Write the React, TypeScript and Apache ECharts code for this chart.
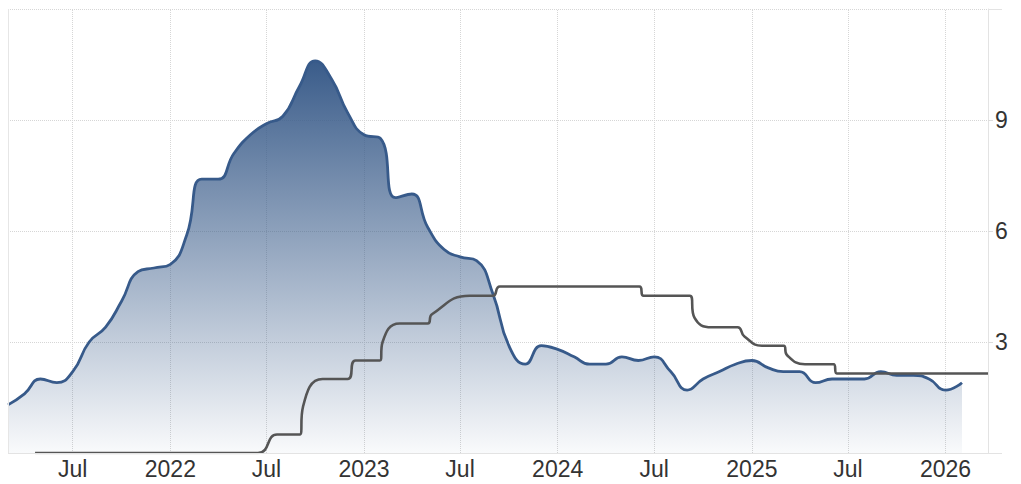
import { useEffect, useRef } from "react";
import * as echarts from "echarts";

// Euro area inflation rate (%), monthly from Mar 2021 to Feb 2026
const inflationStartYear = 2021;
const inflationStartMonth = 3;
const inflationValues = [
  1.3, 1.6, 2.0, 1.9, 2.2, 3.0, 3.4, 4.1, 4.9, 5.0,
  5.1, 5.9, 7.4, 7.4, 8.1, 8.6, 8.9, 9.1, 9.9, 10.6, 10.1, 9.2,
  8.6, 8.5, 6.9, 7.0, 6.1, 5.5, 5.3, 5.2, 4.3, 2.9, 2.4, 2.9,
  2.8, 2.6, 2.4, 2.4, 2.6, 2.5, 2.6, 2.2, 1.7, 2.0, 2.2, 2.4,
  2.5, 2.3, 2.2, 2.2, 1.9, 2.0, 2.0, 2.0, 2.2, 2.1, 2.1, 2.0,
  1.7, 1.9,
];

// Interest rate (%)
const rateDates = [
  "2021-04-21", "2022-06-15", "2022-07-21", "2022-09-02", "2022-09-08",
  "2022-10-15", "2022-12-01", "2022-12-16", "2023-01-31", "2023-02-05",
  "2023-03-09", "2023-05-01", "2023-05-09", "2023-07-19", "2023-09-01",
  "2023-09-14", "2024-06-03", "2024-06-11", "2024-09-06", "2024-09-15",
  "2024-10-17", "2024-12-05", "2024-12-18", "2025-01-20", "2025-03-02",
  "2025-03-08", "2025-04-11", "2025-06-04", "2025-06-10", "2026-03-22",
];
const rateValues = [
  0, 0, 0.5, 0.5, 1.25,
  2.0, 2.0, 2.5, 2.5, 3.0,
  3.5, 3.5, 3.75, 4.25, 4.25,
  4.5, 4.5, 4.25, 4.25, 3.65,
  3.4, 3.4, 3.15, 2.9, 2.9,
  2.65, 2.4, 2.4, 2.15, 2.15,
];

const xMinDate = "2021-03-01";
const xMaxDate = "2026-03-22";
const xTickDates = [
  "2021-07-01", "2022-01-01", "2022-07-01", "2023-01-01", "2023-07-01",
  "2024-01-01", "2024-07-01", "2025-01-01", "2025-07-01", "2026-01-01",
];
const xTickLabels = ["Jul", "2022", "Jul", "2023", "Jul", "2024", "Jul", "2025", "Jul", "2026"];
const yLabelValues = [3, 6, 9];

function toTs(s: string): number {
  const [y, m, d] = s.split("-").map(Number);
  return new Date(y, m - 1, d).getTime();
}

export default function App() {
  const ref = useRef<HTMLDivElement>(null);
  useEffect(() => {
    if (!ref.current) return;
    const chart = echarts.init(ref.current, null, { renderer: "svg" });
    const inflationData = inflationValues.map((v, i) => {
      const d = new Date(inflationStartYear, inflationStartMonth - 1 + i, 1);
      return [d.getTime(), v];
    });
    const rateData = rateDates.map((d, i) => [toTs(d), rateValues[i]]);
    const tickTs = xTickDates.map(toTs);
    const W = 1021;
    const H = 484;
    const left = 8;
    const right = 988;
    const top = 9;
    const bottom = 453;
    const font = "'Liberation Sans', Arial, sans-serif";

    chart.setOption({
      animation: false,
      backgroundColor: "#ffffff",
      grid: { left: left, right: W - right, top: top, bottom: H - bottom, containLabel: false },
      xAxis: {
        type: "value",
        min: toTs(xMinDate),
        max: toTs(xMaxDate),
        scale: true,
        axisLine: { show: false },
        axisTick: { show: false },
        splitLine: { show: false },
        axisLabel: {
          customValues: tickTs,
          showMinLabel: true,
          showMaxLabel: true,
          formatter: (v: number) => {
            let best = 0;
            let bd = Infinity;
            tickTs.forEach((t, i) => {
              const dd = Math.abs(t - v);
              if (dd < bd) { bd = dd; best = i; }
            });
            return xTickLabels[best];
          },
          color: "#333333",
          fontSize: 23,
          fontFamily: font,
          margin: 4,
        },
      },
      yAxis: {
        type: "value",
        position: "right",
        min: 0,
        max: 12,
        interval: 3,
        axisLine: { show: true, lineStyle: { color: "#e3e3e3", width: 1 } },
        axisTick: { show: true, length: 5, lineStyle: { color: "#dddddd" } },
        splitLine: { show: true, lineStyle: { type: "dotted", color: "#d6d6d6", width: 1 } },
        axisLabel: {
          formatter: (v: number) => (yLabelValues.indexOf(v) >= 0 ? String(v) : ""),
          color: "#333333",
          fontSize: 23,
          fontFamily: font,
          margin: 7,
          padding: [0, 0, 6, 0],
        },
      },
      graphic: [
        { type: "line", silent: true, z: 10, shape: { x1: left, y1: bottom + 0.5, x2: 1002, y2: bottom + 0.5 }, style: { stroke: "#e3e3e3", lineWidth: 1 } },
        { type: "line", silent: true, z: 10, shape: { x1: left + 0.5, y1: top, x2: left + 0.5, y2: bottom }, style: { stroke: "#e6e6e6", lineWidth: 1 } },
        { type: "line", silent: true, z: 10, shape: { x1: right, y1: top + 0.5, x2: 1002, y2: top + 0.5 }, style: { stroke: "#e3e3e3", lineWidth: 1 } },
      ],
      series: [
        {
          type: "line",
          data: inflationData,
          smooth: 0.5,
          symbol: "none",
          z: 3,
          lineStyle: { color: "#375a8a", width: 2.8 },
          areaStyle: {
            opacity: 1,
            color: new echarts.graphic.LinearGradient(0, 0, 0, 1, [
              { offset: 0, color: "rgba(58,92,138,1)" },
              { offset: 1, color: "rgba(58,92,138,0.03)" },
            ]),
          },
        },
        {
          type: "line",
          data: rateData,
          smooth: 0.5,
          symbol: "none",
          z: 4,
          lineStyle: { color: "#555555", width: 2.6 },
          markLine: {
            silent: true,
            symbol: "none",
            label: { show: false },
            lineStyle: { type: "dotted", color: "#d6d6d6", width: 1 },
            data: tickTs.map((t) => ({ xAxis: t })),
            z: 1,
          },
        },
      ],
    });
    return () => chart.dispose();
  }, []);
  return (
    <div
      ref={ref}
      style={{ position: "fixed", left: 0, top: 0, width: 1021, height: 484 }}
    />
  );
}
